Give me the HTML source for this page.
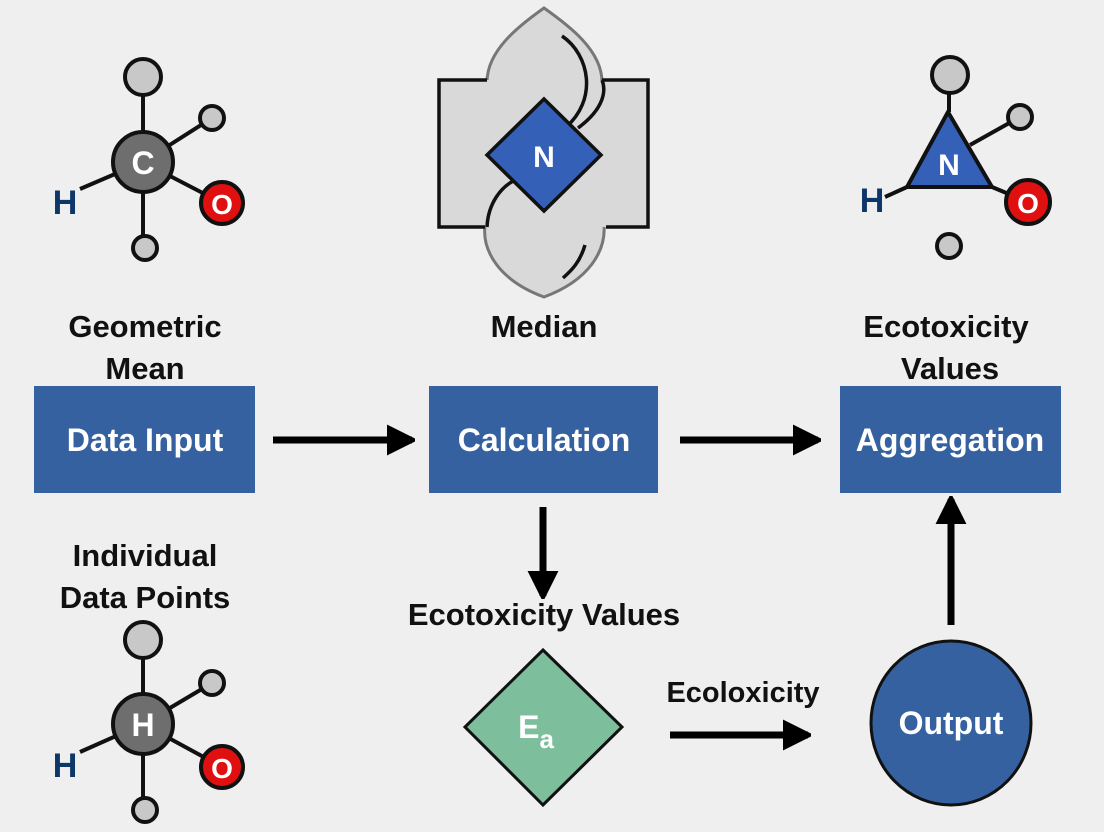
<!DOCTYPE html>
<html><head><meta charset="utf-8"><style>
html,body{margin:0;padding:0;background:#efefef;}
svg{display:block}
text{font-family:"Liberation Sans",sans-serif;font-weight:bold;}
</style></head><body>
<svg width="1104" height="832" viewBox="0 0 1104 832" xmlns="http://www.w3.org/2000/svg">
<rect width="1104" height="832" fill="#efefef"/>
<defs>
<marker id="ah" viewBox="0 0 10 10" refX="9" refY="5" markerWidth="4" markerHeight="4.4" orient="auto" markerUnits="strokeWidth">
<path d="M0,0 L10,5 L0,10 z" fill="#000" stroke="#000" stroke-linejoin="round"/></marker>
</defs>

<!-- Left top molecule -->
<g stroke="#111" stroke-width="4">
<line x1="143" y1="77" x2="143" y2="248"/>
<line x1="143" y1="162" x2="212" y2="118"/>
<line x1="143" y1="162" x2="222" y2="203"/>
<line x1="143" y1="162" x2="80" y2="189"/>
<circle cx="143" cy="77" r="18" fill="#c8c8c8"/>
<circle cx="212" cy="118" r="12" fill="#c8c8c8"/>
<circle cx="145" cy="248" r="12" fill="#c8c8c8"/>
<circle cx="222" cy="203" r="21" fill="#e01010"/>
<circle cx="143" cy="162" r="30" fill="#6e6e6e"/>
</g>
<text x="143" y="174" font-size="32" fill="#fff" text-anchor="middle">C</text>
<text x="222" y="214" font-size="28" fill="#fff" text-anchor="middle">O</text>
<text x="65" y="214" font-size="34" fill="#0e3668" text-anchor="middle">H</text>

<!-- Left bottom molecule -->
<g stroke="#111" stroke-width="4">
<line x1="143" y1="640" x2="143" y2="810"/>
<line x1="143" y1="724" x2="212" y2="683"/>
<line x1="143" y1="724" x2="222" y2="767"/>
<line x1="143" y1="724" x2="80" y2="752"/>
<circle cx="143" cy="640" r="18" fill="#c8c8c8"/>
<circle cx="212" cy="683" r="12" fill="#c8c8c8"/>
<circle cx="145" cy="810" r="12" fill="#c8c8c8"/>
<circle cx="222" cy="767" r="21" fill="#e01010"/>
<circle cx="143" cy="724" r="30" fill="#6e6e6e"/>
</g>
<text x="143" y="736" font-size="32" fill="#fff" text-anchor="middle">H</text>
<text x="222" y="778" font-size="28" fill="#fff" text-anchor="middle">O</text>
<text x="65" y="777" font-size="34" fill="#0e3668" text-anchor="middle">H</text>

<!-- Right molecule -->
<g stroke="#111" stroke-width="4">
<line x1="949" y1="75" x2="949" y2="112"/>
<line x1="970" y1="145" x2="1020" y2="117"/>
<line x1="992" y1="187" x2="1028" y2="202"/>
<line x1="907" y1="187" x2="885" y2="197"/>
<circle cx="950" cy="75" r="18" fill="#c8c8c8"/>
<circle cx="1020" cy="117" r="12" fill="#c8c8c8"/>
<circle cx="949" cy="246" r="12" fill="#c8c8c8"/>
<circle cx="1028" cy="202" r="22" fill="#e01010"/>
<polygon points="948,112 907,187 992,187" fill="#3560b8" stroke-linejoin="miter"/>
</g>
<text x="949" y="175" font-size="30" fill="#fff" text-anchor="middle">N</text>
<text x="1028" y="213" font-size="28" fill="#fff" text-anchor="middle">O</text>
<text x="872" y="212" font-size="34" fill="#0e3668" text-anchor="middle">H</text>

<!-- Median figure -->
<path d="M487,82 C487,50 520,25 544,8 C568,25 602,50 602,82 Z" fill="#d9d9d9" stroke="#777" stroke-width="3"/>
<path d="M485,225 C482,250 498,280 544,297 C590,280 606,250 604,225 Z" fill="#d9d9d9" stroke="#777" stroke-width="3"/>
<rect x="439" y="80" width="209" height="147" fill="#d9d9d9"/>
<g stroke="#111" stroke-width="3.5" fill="none">
<path d="M487,80 L439,80 L439,227 L485,227"/>
<path d="M602,80 L648,80 L648,227 L606,227"/>
<path d="M562,36 C590,55 598,100 565,128"/>
<path d="M578,128 C605,108 606,90 602,80"/>
<path d="M487,227 C488,205 500,185 520,178"/>
<path d="M563,278 C572,270 580,262 585,245"/>
</g>
<polygon points="544,99 601,155 544,211 487,155" fill="#3560b8" stroke="#111" stroke-width="3.5"/>
<text x="544" y="167" font-size="30" fill="#fff" text-anchor="middle">N</text>

<!-- Labels -->
<g font-size="31" fill="#111" text-anchor="middle">
<text x="145" y="337">Geometric</text>
<text x="145" y="379">Mean</text>
<text x="544" y="337">Median</text>
<text x="946" y="337">Ecotoxicity</text>
<text x="950" y="379">Values</text>
<text x="145" y="566">Individual</text>
<text x="145" y="608">Data Points</text>
<text x="544" y="625">Ecotoxicity Values</text>
<text x="743" y="702" font-size="29">Ecoloxicity</text>
</g>

<!-- Boxes -->
<rect x="34" y="386" width="221" height="107" fill="#3561a0"/>
<rect x="429" y="386" width="229" height="107" fill="#3561a0"/>
<rect x="840" y="386" width="221" height="107" fill="#3561a0"/>
<g font-size="32" fill="#fff" text-anchor="middle">
<text x="145" y="451">Data Input</text>
<text x="544" y="451">Calculation</text>
<text x="950" y="451">Aggregation</text>
</g>

<!-- Arrows -->
<g stroke="#000" stroke-width="7" fill="none">
<line x1="273" y1="440" x2="412" y2="440" marker-end="url(#ah)"/>
<line x1="680" y1="440" x2="818" y2="440" marker-end="url(#ah)"/>
<line x1="543" y1="507" x2="543" y2="596" marker-end="url(#ah)"/>
<line x1="951" y1="625" x2="951" y2="499" marker-end="url(#ah)"/>
<line x1="670" y1="735" x2="808" y2="735" marker-end="url(#ah)"/>
</g>

<!-- Diamond Ea -->
<polygon points="543,650 622,727 543,805 465,727" fill="#7dbf9d" stroke="#111" stroke-width="3"/>
<text x="536" y="738" font-size="32" fill="#fff" text-anchor="middle" font-weight="normal">E<tspan font-size="26" dy="10">a</tspan></text>

<!-- Output circle -->
<ellipse cx="951" cy="723" rx="80" ry="82" fill="#3561a0" stroke="#111" stroke-width="3"/>
<text x="951" y="734" font-size="32" fill="#fff" text-anchor="middle">Output</text>
</svg>
</body></html>
